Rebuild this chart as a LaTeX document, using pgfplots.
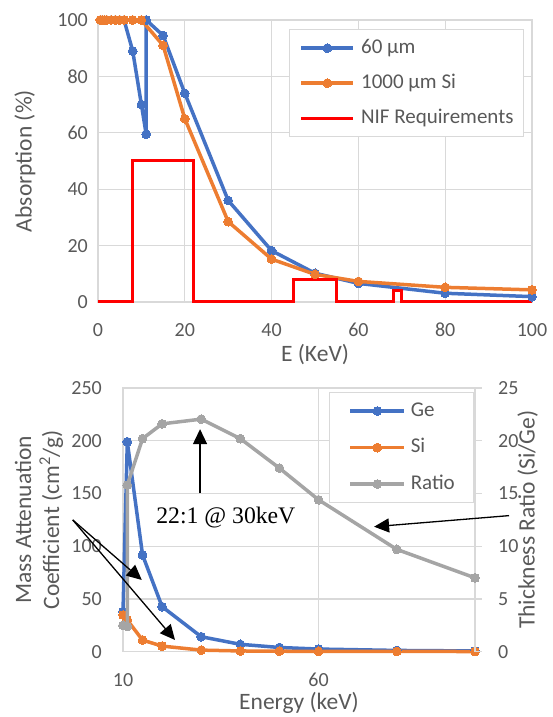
\documentclass[border=0pt]{standalone}
\usepackage{fontspec}
\setmainfont{Carlito}
\newfontfamily\timesfont{Liberation Serif}
\usepackage{pgfplots}
\pgfplotsset{compat=1.18}
\usetikzlibrary{arrows.meta}
\definecolor{xblue}{HTML}{4472C4}
\definecolor{xorange}{HTML}{ED7D31}
\definecolor{xgray}{HTML}{A5A5A5}
\definecolor{xred}{HTML}{FF0000}
\definecolor{xtext}{HTML}{595959}
\definecolor{xgrid}{HTML}{D9D9D9}
\pgfplotsset{
 excel/.style={
  scale only axis,
  /pgf/number format/assume math mode=true,
  axis line style={xgrid, line width=1.3pt},
  major tick length=0pt,
  tick style={xgrid, line width=1.3pt},
  tick label style={font=\fontsize{20}{24}\selectfont, text=xtext, inner sep=0pt},
  label style={font=\fontsize{23.5}{28}\selectfont, text=xtext},
  legend cell align=left,
  legend image code/.code={\draw[mark repeat=2,mark phase=2,##1] plot coordinates {(0pt,0pt) (26pt,0pt) (52pt,0pt)};},
 },
 ser/.style={color=#1, line width=3.5pt, mark=*, mark size=4.4pt, mark options={solid, fill=#1, draw=#1, line width=0pt}},
}
\begin{document}
\begin{tikzpicture}
\path[use as bounding box] (0,0) rectangle (552pt,717pt);
% ---------------- top chart ----------------
\begin{axis}[excel,
  at={(98pt,415pt)}, anchor=south west, width=434pt, height=282pt,
  xmin=0, xmax=100, ymin=0, ymax=100,
  xtick={0,20,...,100}, ytick={0,20,...,100},
  grid=major, grid style={xgrid, line width=1.3pt},
  xticklabel style={anchor=center, yshift=-28pt},
  yticklabel style={anchor=east, xshift=-10pt},
  xlabel={E (KeV)}, ylabel={Absorption (\%)},
  xlabel style={at={(axis description cs:0.5,-0.188)}, anchor=center},
  ylabel style={at={(axis description cs:-0.1682,0.5)}, anchor=center},
  legend style={at={(axis description cs:0.440,0.968)}, anchor=north west,
    font=\fontsize{21}{24}\selectfont, text=xtext, draw=xgrid, line width=1.3pt, fill=white,
    inner xsep=10pt, inner ysep=8.5pt, row sep=15pt,
    nodes={inner sep=0pt, text height=15pt, text depth=5pt},
    /tikz/every odd column/.append style={column sep=6pt}},
  clip=false,
]
\addplot[ser=xblue] coordinates {(1,100)(2,100)(3,100)(4,100)(5,100)(6,100)(8,89)(10,70)(11.1,59.5)(11.1,100)(15,94.5)(20,74)(30,36)(40,18.2)(50,10.2)(60,6.6)(80,3.1)(100,1.9)};
\addlegendentry{60 µm}
\addplot[ser=xorange] coordinates {(0.5,100)(1,100)(1.5,100)(2,100)(3,100)(4,100)(5,100)(6,100)(8,100)(10,100)(15,91)(20,65)(30,28.5)(40,15.2)(50,9.8)(60,7.3)(80,5.2)(100,4.3)};
\addlegendentry{1000 µm Si}
\addplot[xred, line width=3pt, no marks] coordinates {(0,0)(8,0)(8,50)(22,50)(22,0)(45,0)(45,8)(55,8)(55,0)(68,0)(68,4)(70,4)(70,0)(100,0)};
\addlegendentry{NIF Requirements}
\end{axis}
% ---------------- bottom chart, left axis ----------------
\begin{axis}[excel,
  at={(123pt,65.3pt)}, anchor=south west, width=352pt, height=263.7pt,
  xmin=10, xmax=100, ymin=0, ymax=250,
  xtick={10,60}, ytick={0,50,...,250},
  grid=major, grid style={xgrid, line width=1.3pt},
  xticklabel style={anchor=center, yshift=-28.3pt},
  yticklabel style={anchor=east, xshift=-21pt},
  xlabel={Energy (keV)},
  ylabel={Mass Attenuation\\Coefficient (cm\textsuperscript{2}/g)},
  xlabel style={at={(axis description cs:0.5,-0.196)}, anchor=center},
  ylabel style={at={(axis description cs:-0.2386,0.5)}, anchor=center, align=center},
  clip=false,
]
\addplot[ser=xblue] coordinates {(10,38)(11.1,199)(15,91.7)(20,42.7)(30,14.2)(40,7)(50,4)(60,2.5)(80,1.2)(100,0.7)};
\addplot[ser=xorange] coordinates {(10,34.8)(11.1,30)(15,11)(20,5.3)(30,1.5)(40,0.7)(50,0.45)(60,0.32)(80,0.22)(100,0.18)};
\end{axis}
% ---------------- bottom chart, right axis ----------------
\begin{axis}[excel,
  at={(123pt,65.3pt)}, anchor=south west, width=352pt, height=263.7pt,
  xmin=10, xmax=100, ymin=0, ymax=25,
  axis x line=none, axis y line*=right,
  ytick={0,5,...,25},
  tick align=outside, major tick length=7pt,
  yticklabel style={anchor=west, xshift=16pt},
  ylabel={Thickness Ratio (Si/Ge)},
  ylabel style={at={(axis description cs:1.1497,0.5)}, anchor=center},
  legend style={at={(axis description cs:0.585,0.985)}, anchor=north west,
    font=\fontsize{21}{24}\selectfont, text=xtext, draw=xgrid, line width=1.3pt, fill=white,
    inner xsep=19pt, inner ysep=8.5pt, row sep=16.5pt,
    nodes={inner sep=0pt, text height=15pt, text depth=5pt},
    /tikz/every odd column/.append style={column sep=4.7pt}},
  legend image code/.code={\draw[mark repeat=2,mark phase=2,#1] plot coordinates {(0pt,0pt) (27pt,0pt) (54pt,0pt)};},
  clip=false,
]
\addlegendimage{ser=xblue}
\addlegendentry{Ge}
\addlegendimage{ser=xorange}
\addlegendentry{Si}
\addplot[ser=xgray] coordinates {(10,2.5)(11.1,2.4)(11.1,15.8)(15,20.2)(20,21.6)(30,22.05)(40,20.2)(50,17.4)(60,14.4)(80,9.7)(100,7)};
\addlegendentry{Ratio}
\draw[black, line width=1.3pt, -{Triangle[length=15pt,width=14pt]}] (axis cs:29.7,15.02) -- (axis cs:29.7,21.1);
\node[anchor=base, inner sep=0pt, font=\timesfont\fontsize{23.7}{28}\selectfont] at (axis cs:36.3,12.2) {22:1 @ 30keV};
\draw[black, line width=1.3pt, -{Triangle[length=15pt,width=14pt]}] (axis cs:-2.85,12.49) -- (axis cs:14.8,6.8);
\draw[black, line width=1.3pt, -{Triangle[length=15pt,width=14pt]}] (axis cs:-2.85,12.49) -- (axis cs:23.3,1.11);
\draw[black, line width=1.3pt, -{Triangle[length=15pt,width=14pt]}] (axis cs:108.7,12.9) -- (axis cs:74.2,11.85);
\end{axis}
\end{tikzpicture}
\end{document}
